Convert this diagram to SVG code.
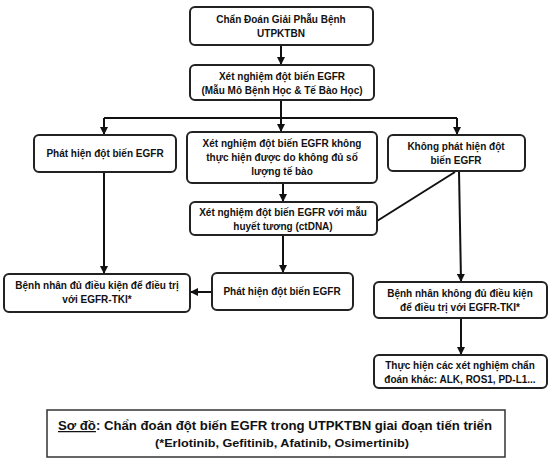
<svg xmlns="http://www.w3.org/2000/svg" width="559" height="459" viewBox="0 0 559 459">
<defs>
<marker id="arr" viewBox="0 0 8 8" refX="7" refY="4" markerWidth="4" markerHeight="4" orient="auto" markerUnits="strokeWidth">
<path d="M0,0 L8,4 L0,8 z" fill="#111"/>
</marker>
<style>
.box{fill:#fff;stroke:#222;stroke-width:2}
.t{font-family:"Liberation Sans",Arial,sans-serif;font-weight:bold;font-size:10px;fill:#111;text-anchor:middle}
.c{stroke:#111;stroke-width:2;fill:none}
.a{stroke:#111;stroke-width:2;fill:none;marker-end:url(#arr)}
.cap{font-family:"Liberation Sans",Arial,sans-serif;font-weight:bold;fill:#111;text-anchor:middle}
</style>
</defs>
<rect width="559" height="459" fill="#fff"/>
<g id="connectors">
<path class="a" d="M281,45 V64"/>
<path class="c" d="M281,100 V118"/>
<path class="c" d="M104,118 H457"/>
<path class="a" d="M104,118 V134"/>
<path class="a" d="M281,118 V131"/>
<path class="a" d="M457,118 V134"/>
<path class="a" d="M283,183 V201"/>
<path class="c" d="M377,221 L455,172"/>
<path class="a" d="M104,172 V273"/>
<path class="a" d="M283,235 V272"/>
<path class="a" d="M212,292 H191"/>
<path class="a" d="M459,171 L461,281"/>
<path class="a" d="M461,318 V354"/>
</g>
<g id="n1"><rect class="box" x="190" y="7" width="183" height="38" rx="5"/>
<text class="t" x="281" y="23">Chẩn Đoán Giải Phẫu Bệnh</text><text class="t" x="281" y="37">UTPKTBN</text></g>
<g id="n2"><rect class="box" x="190" y="65" width="184" height="35" rx="5"/>
<text class="t" x="282" y="80">Xét nghiệm đột biến EGFR</text><text class="t" x="282" y="94">(Mẫu Mô Bệnh Học &amp; Tế Bào Học)</text></g>
<g id="n3"><rect class="box" x="34" y="135" width="142" height="37" rx="5"/>
<text class="t" x="105" y="157">Phát hiện đột biến EGFR</text></g>
<g id="n4"><rect class="box" x="187" y="132" width="190" height="51" rx="5"/>
<text class="t" x="282" y="147">Xét nghiệm đột biến EGFR không</text><text class="t" x="282" y="161">thực hiện được do không đủ số</text><text class="t" x="282" y="175">lượng tế bào</text></g>
<g id="n5"><rect class="box" x="388" y="135" width="137" height="36" rx="5"/>
<text class="t" x="456" y="150">Không phát hiện đột</text><text class="t" x="456" y="164">biến EGFR</text></g>
<g id="n6"><rect class="box" x="190" y="202" width="187" height="33" rx="5"/>
<text class="t" x="283" y="216">Xét nghiệm đột biến EGFR với mẫu</text><text class="t" x="283" y="230">huyết tương (ctDNA)</text></g>
<g id="n7"><rect class="box" x="4" y="274" width="186" height="38" rx="5"/>
<text class="t" x="97" y="289">Bệnh nhân đủ điều kiện để điều trị</text><text class="t" x="97" y="303">với EGFR-TKI*</text></g>
<g id="n8"><rect class="box" x="212" y="273" width="141" height="37" rx="5"/>
<text class="t" x="282" y="295">Phát hiện đột biến EGFR</text></g>
<g id="n9"><rect class="box" x="374" y="282" width="173" height="36" rx="5"/>
<text class="t" x="460" y="297">Bệnh nhân không đủ điều kiện</text><text class="t" x="460" y="311">để điều trị với EGFR-TKI*</text></g>
<g id="n10"><rect class="box" x="374" y="355" width="173" height="33" rx="5"/>
<text class="t" x="460" y="369">Thực hiện các xét nghiệm chẩn</text><text class="t" x="460" y="383">đoán khác: ALK, ROS1, PD-L1...</text></g>
<g id="caption"><rect x="47" y="410" width="458" height="47" fill="#fff" stroke="#333" stroke-width="1.5"/>
<text class="cap" x="275" y="430" font-size="12.5" textLength="434" lengthAdjust="spacingAndGlyphs"><tspan text-decoration="underline">Sơ đồ</tspan>: Chẩn đoán đột biến EGFR trong UTPKTBN giai đoạn tiến triển</text>
<text class="cap" x="282" y="447" font-size="11" textLength="254" lengthAdjust="spacingAndGlyphs">(*Erlotinib, Gefitinib, Afatinib, Osimertinib)</text></g>
</svg>
